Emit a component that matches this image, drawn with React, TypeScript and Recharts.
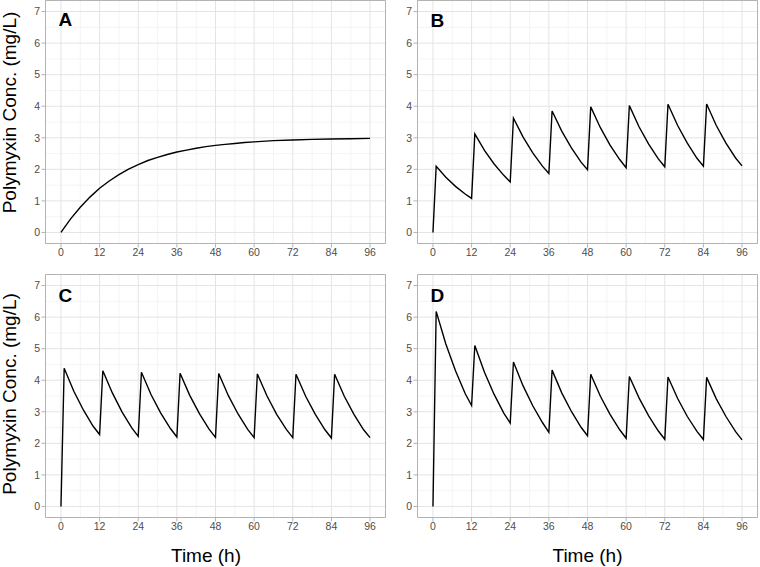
import React from "react";
import {
  LineChart,
  Line,
  XAxis,
  YAxis,
  CartesianGrid,
  ReferenceArea,
} from "recharts";

// time points (h)
const infusionTimes = [
  0, 1, 4, 7, 10, 12, 13, 16, 19, 22, 24, 25, 28, 31, 34, 36, 37, 40, 43, 46,
  48, 49, 52, 55, 58, 60, 61, 64, 67, 70, 72, 73, 76, 79, 82, 84, 85, 88, 91,
  94, 96,
];
const continuousTimes = [
  0, 3, 6, 9, 12, 15, 18, 21, 24, 27, 30, 33, 36, 39, 42, 45, 48, 51, 54, 57,
  60, 66, 72, 78, 84, 90, 96,
];

// concentrations (mg/L)
const concA = [
  0, 0.43, 0.8, 1.12, 1.4, 1.63, 1.83, 2.01, 2.15, 2.28, 2.38, 2.47, 2.55,
  2.61, 2.67, 2.72, 2.76, 2.79, 2.82, 2.85, 2.87, 2.91, 2.93, 2.95, 2.96, 2.97,
  2.98,
];
const concB = [
  0, 2.1, 1.75, 1.46, 1.22, 1.08, 3.12, 2.6, 2.17, 1.81, 1.6, 3.62, 3.02, 2.52,
  2.1, 1.87, 3.85, 3.21, 2.68, 2.23, 1.99, 3.98, 3.32, 2.77, 2.31, 2.05, 4.02,
  3.35, 2.8, 2.33, 2.08, 4.06, 3.39, 2.83, 2.35, 2.1, 4.07, 3.39, 2.83, 2.36,
  2.11,
];
const concC = [
  0, 4.38, 3.65, 3.05, 2.54, 2.28, 4.3, 3.59, 2.99, 2.49, 2.22, 4.25, 3.54,
  2.96, 2.47, 2.2, 4.22, 3.52, 2.94, 2.45, 2.19, 4.21, 3.51, 2.93, 2.44, 2.18,
  4.2, 3.5, 2.92, 2.44, 2.18, 4.19, 3.49, 2.92, 2.43, 2.17, 4.19, 3.49, 2.92,
  2.43, 2.18,
];
const concD = [
  0, 6.18, 5.15, 4.3, 3.58, 3.2, 5.1, 4.25, 3.55, 2.96, 2.64, 4.58, 3.82, 3.19,
  2.66, 2.35, 4.32, 3.6, 3.01, 2.51, 2.24, 4.19, 3.49, 2.92, 2.43, 2.16, 4.12,
  3.44, 2.87, 2.39, 2.13, 4.1, 3.42, 2.85, 2.38, 2.12, 4.09, 3.41, 2.85, 2.37,
  2.11,
];

const xTicks = [0, 12, 24, 36, 48, 60, 72, 84, 96];
const yTicks = [0, 1, 2, 3, 4, 5, 6, 7];
const xMinor = [6, 18, 30, 42, 54, 66, 78, 90];
const yMinor = [0.5, 1.5, 2.5, 3.5, 4.5, 5.5, 6.5];

const X_DOMAIN: [number, number] = [-4.8, 100.8];
const Y_DOMAIN: [number, number] = [-0.35, 7.35];

const FONT = '"Liberation Sans", Arial, Helvetica, sans-serif';
const AXIS_W = 45.5;
const PLOT_W = 340;

const toRows = (t: number[], c: number[]) => t.map((v, i) => ({ t: v, c: c[i] }));

interface PanelProps {
  letter: string;
  times: number[];
  conc: number[];
  left: number;
  top: number;
  width: number;
  height: number;
  xAxisHeight: number;
  letterBaseline: number;
  yTitleShift?: number;
  xTitleShift?: number;
  xTitleBaseline?: number;
}

const Panel: React.FC<PanelProps> = ({
  letter,
  times,
  conc,
  left,
  top,
  width,
  height,
  xAxisHeight,
  letterBaseline,
  yTitleShift,
  xTitleShift,
  xTitleBaseline,
}) => {
  const data = toRows(times, conc);
  const yTitle =
    yTitleShift === undefined
      ? undefined
      : (p: any) => {
          const vb = p.viewBox || { y: 0.5, height: 243 };
          const cy = vb.y + vb.height / 2 + yTitleShift;
          return (
            <text
              x={15.5}
              y={cy}
              transform={`rotate(-90 15.5 ${cy})`}
              textAnchor="middle"
              fontFamily={FONT}
              fontSize={19}
              fill="#000"
            >
              Polymyxin Conc. (mg/L)
            </text>
          );
        };
  const xTitle =
    xTitleShift === undefined
      ? undefined
      : () => (
          <text
            x={AXIS_W + PLOT_W / 2 + xTitleShift}
            y={xTitleBaseline}
            textAnchor="middle"
            fontFamily={FONT}
            fontSize={19}
            fill="#000"
          >
            Time (h)
          </text>
        );

  return (
    <div style={{ position: "absolute", left, top }}>
      <LineChart
        width={width}
        height={height}
        data={data}
        margin={{ top: 0.5, right: width - AXIS_W - PLOT_W, bottom: 0, left: 0 }}
      >
        <CartesianGrid
          stroke="#f1f1f1"
          strokeWidth={0.8}
          verticalValues={xMinor}
          horizontalValues={yMinor}
        />
        <CartesianGrid stroke="#e4e4e4" strokeWidth={1} />
        <XAxis
          dataKey="t"
          type="number"
          domain={X_DOMAIN}
          ticks={xTicks}
          allowDataOverflow
          axisLine={false}
          tickSize={4}
          tickMargin={1}
          tickLine={{ stroke: "#b3b3b3" }}
          tick={{ fill: "#4d4d4d", fontSize: 10.5, fontFamily: FONT }}
          height={xAxisHeight}
          interval={0}
          label={xTitle}
        />
        <YAxis
          type="number"
          domain={Y_DOMAIN}
          ticks={yTicks}
          allowDataOverflow
          axisLine={false}
          tickSize={4}
          tickMargin={1.5}
          tickLine={{ stroke: "#b3b3b3" }}
          tick={{ fill: "#4d4d4d", fontSize: 10.5, fontFamily: FONT }}
          width={AXIS_W}
          interval={0}
          label={yTitle}
        />
        <Line
          type="linear"
          dataKey="c"
          stroke="#000"
          strokeWidth={1.4}
          dot={false}
          isAnimationActive={false}
        />
        <ReferenceArea
          x1={X_DOMAIN[0]}
          x2={X_DOMAIN[1]}
          y1={Y_DOMAIN[0]}
          y2={Y_DOMAIN[1]}
          fill="none"
          fillOpacity={0}
          stroke="#b3b3b3"
          strokeWidth={1}
          ifOverflow="visible"
        />
      </LineChart>
      <svg
        width={width}
        height={60}
        style={{ position: "absolute", left: 0, top: 0, pointerEvents: "none" }}
      >
        <text
          x={AXIS_W + 13}
          y={letterBaseline}
          fontFamily={FONT}
          fontSize={19}
          fontWeight="bold"
          fill="#000"
        >
          {letter}
        </text>
      </svg>
    </div>
  );
};

export default function App() {
  return (
    <div
      style={{
        position: "absolute",
        left: 0,
        top: 0,
        width: 760,
        height: 567,
        overflow: "hidden",
        background: "#fff",
      }}
    >
      <Panel
        letter="A"
        times={continuousTimes}
        conc={concA}
        left={0}
        top={0}
        width={386}
        height={270}
        xAxisHeight={26.5}
        letterBaseline={26}
        yTitleShift={-9.5}
      />
      <Panel
        letter="B"
        times={infusionTimes}
        conc={concB}
        left={372}
        top={0}
        width={388}
        height={270}
        xAxisHeight={26.5}
        letterBaseline={26.5}
      />
      <Panel
        letter="C"
        times={infusionTimes}
        conc={concC}
        left={0}
        top={274}
        width={386}
        height={293}
        xAxisHeight={49.5}
        letterBaseline={27.7}
        yTitleShift={-2}
        xTitleShift={-9.5}
        xTitleBaseline={288}
      />
      <Panel
        letter="D"
        times={infusionTimes}
        conc={concD}
        left={372}
        top={274}
        width={388}
        height={293}
        xAxisHeight={49.5}
        letterBaseline={27.7}
        xTitleShift={0}
        xTitleBaseline={288}
      />
    </div>
  );
}
